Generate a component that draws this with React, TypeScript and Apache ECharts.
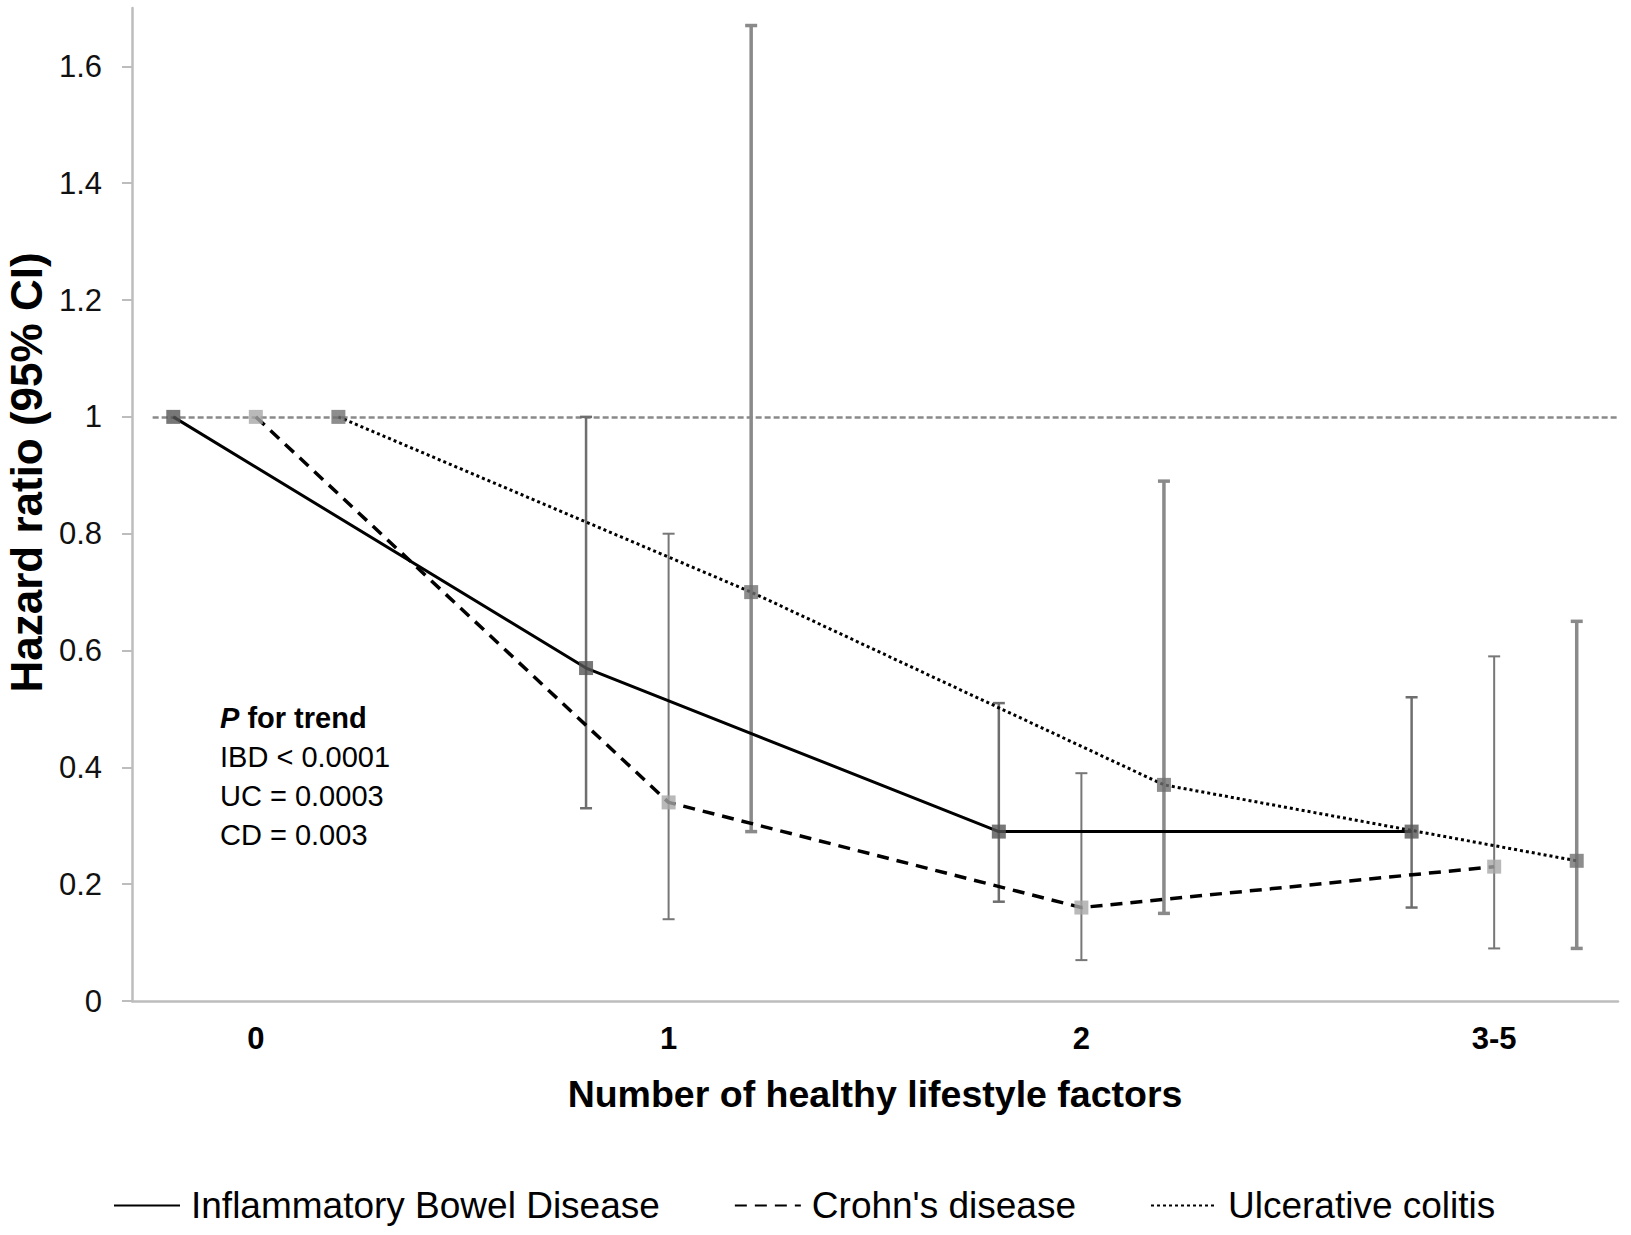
import React, { useEffect, useRef } from "react";
import * as echarts from "echarts";

// ---- data ----
const groups = [0, 1, 2, 3];
const xTickLabels = ["0", "1", "2", "3-5"];
const yTicks = [0, 0.2, 0.4, 0.6, 0.8, 1, 1.2, 1.4, 1.6];

const seriesNames = ["Inflammatory Bowel Disease", "Crohn's disease", "Ulcerative colitis"];
const groupOffsets = [-0.2, 0, 0.2];

const ibdHR = [1, 0.57, 0.29, 0.29];
const ibdLow = [null, 0.33, 0.17, 0.16];
const ibdHigh = [null, 1.0, 0.51, 0.52];

const cdHR = [1, 0.34, 0.16, 0.23];
const cdLow = [null, 0.14, 0.07, 0.09];
const cdHigh = [null, 0.8, 0.39, 0.59];

const ucHR = [1, 0.7, 0.37, 0.24];
const ucLow = [null, 0.29, 0.15, 0.09];
const ucHigh = [null, 1.67, 0.89, 0.65];

const referenceHR = 1;
const referenceRange = [-0.25, 3.3];

const trendTitle = "for trend";
const trendLines = ["IBD < 0.0001", "UC = 0.0003", "CD = 0.003"];

const FONT = "'Liberation Sans', Arial, Helvetica, sans-serif";

export default function App() {
  const ref = useRef<HTMLDivElement>(null);

  useEffect(() => {
    document.body.style.margin = "0";
    const chart = echarts.init(ref.current!, null, { renderer: "svg" });

    const hrs = [ibdHR, cdHR, ucHR];
    const lows = [ibdLow, cdLow, ucLow];
    const highs = [ibdHigh, cdHigh, ucHigh];
    const markerColors = ["#555555", "#a8a8a8", "#707070"];
    const barColors = ["#6e6e6e", "#777777", "#8a8a8a"];
    const barWidths = [2.5, 2, 3.5];
    const lineStyles: any[] = [
      { color: "#000", width: 3, type: "solid" },
      { color: "#000", width: 3.5, type: [12, 8] },
      { color: "#000", width: 3, type: [3, 3] },
    ];

    const lineSeries = seriesNames.map((name, s) => ({
      name,
      type: "line",
      symbol: "none",
      data: groups.map((g, i) => [g + groupOffsets[s], hrs[s][i]]),
      lineStyle: lineStyles[s],
      itemStyle: { color: "#000" },
      z: 4,
      silent: true,
      ...(s === 0
        ? {
            markLine: {
              silent: true,
              symbol: "none",
              label: { show: false },
              lineStyle: { color: "#8a8a8a", width: 2.5, type: [6, 3] },
              data: [[{ coord: [referenceRange[0], referenceHR] }, { coord: [referenceRange[1], referenceHR] }]],
              z: 1,
            },
          }
        : {}),
    }));

    const errorSeries = seriesNames.map((name, s) => ({
      name: name + " CI",
      type: "custom",
      z: 2,
      silent: true,
      data: groups
        .map((g, i) => [g + groupOffsets[s], lows[s][i], highs[s][i]])
        .filter((d) => d[1] != null),
      encode: { x: 0, y: [1, 2] },
      renderItem: (params: any, api: any) => {
        const x = api.value(0);
        const lo = api.coord([x, api.value(1)]);
        const hi = api.coord([x, api.value(2)]);
        const cap = 6;
        const style = { stroke: barColors[s], lineWidth: barWidths[s] };
        return {
          type: "group",
          children: [
            { type: "line", shape: { x1: lo[0], y1: lo[1], x2: hi[0], y2: hi[1] }, style },
            { type: "line", shape: { x1: lo[0] - cap, y1: lo[1], x2: lo[0] + cap, y2: lo[1] }, style },
            { type: "line", shape: { x1: hi[0] - cap, y1: hi[1], x2: hi[0] + cap, y2: hi[1] }, style },
          ],
        };
      },
    }));

    const markerSeries = seriesNames.map((name, s) => ({
      name: name + " HR",
      type: "scatter",
      symbol: "rect",
      symbolSize: 14,
      z: 6,
      silent: true,
      itemStyle: { color: markerColors[s] },
      data: groups.map((g, i) => [g + groupOffsets[s], hrs[s][i]]),
    }));

    chart.setOption({
      animation: false,
      backgroundColor: "#ffffff",
      textStyle: { fontFamily: FONT },
      grid: { left: 132, right: 13, top: 8, bottom: 234, containLabel: false, outerBoundsMode: "none" },
      legend: {
        data: seriesNames,
        left: 108,
        top: 1182,
        itemWidth: 66,
        itemHeight: 14,
        itemGap: 74,
        itemStyle: { opacity: 0 },
        textStyle: { fontSize: 37, color: "#000", fontFamily: FONT, padding: [0, 0, 0, 6] },
        selectedMode: false,
      },
      xAxis: {
        type: "value",
        min: -0.3,
        max: 3.3,
        name: "Number of healthy lifestyle factors",
        nameLocation: "middle",
        nameGap: 74,
        nameTextStyle: { fontSize: 37.5, fontWeight: "bold", color: "#000", fontFamily: FONT },
        axisLine: { show: true, onZero: false, lineStyle: { color: "#bdbdbd", width: 2.5 } },
        axisTick: { show: false },
        splitLine: { show: false },
        axisLabel: {
          customValues: groups,
          formatter: (v: number) => xTickLabels[Math.round(v)] ?? "",
          fontSize: 31,
          fontWeight: "bold",
          color: "#000",
          margin: 22,
          fontFamily: FONT,
        },
      },
      yAxis: {
        type: "value",
        min: 0,
        max: 1.7,
        interval: 0.2,
        name: "Hazard ratio (95% CI)",
        nameLocation: "middle",
        nameRotate: 90,
        nameGap: 82,
        nameTextStyle: { fontSize: 44, fontWeight: "bold", color: "#000", fontFamily: FONT, padding: [0, 0, 0, 64] },
        axisLine: { show: true, onZero: false, lineStyle: { color: "#bdbdbd", width: 2.5 } },
        axisTick: { show: true, customValues: yTicks, length: 10, inside: false, lineStyle: { color: "#bdbdbd", width: 2 } },
        splitLine: { show: false },
        axisLabel: {
          customValues: yTicks,
          formatter: (v: number) => String(Math.round(v * 10) / 10),
          fontSize: 31,
          color: "#111",
          margin: 30,
          fontFamily: FONT,
        },
      },
      graphic: [
        {
          type: "text",
          left: 220,
          top: 698,
          silent: true,
          style: {
            text: "{p|P} {b|" + trendTitle + "}\n" + trendLines.join("\n"),
            font: "29px " + FONT,
            lineHeight: 39,
            fill: "#000",
            rich: {
              p: { fontSize: 29, fontWeight: "bold", fontStyle: "italic", fontFamily: FONT, lineHeight: 39 },
              b: { fontSize: 29, fontWeight: "bold", fontFamily: FONT, lineHeight: 39 },
            },
          },
        },
      ],
      series: [...errorSeries, ...lineSeries, ...markerSeries],
    });

    return () => chart.dispose();
  }, []);

  return <div ref={ref} style={{ position: "fixed", left: 0, top: 0, width: 1631, height: 1235 }} />;
}
